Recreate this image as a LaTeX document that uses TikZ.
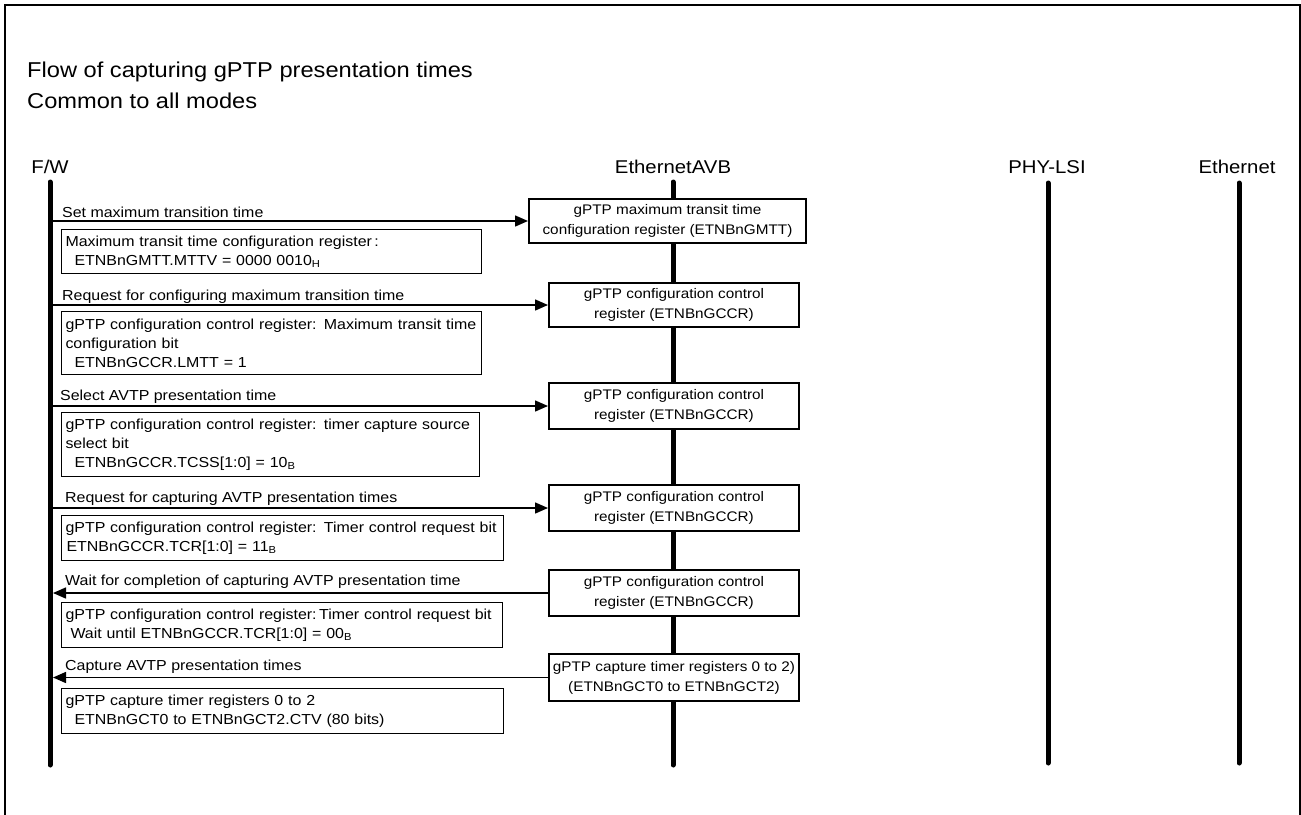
\documentclass[tikz,border=0pt]{standalone}
\usepackage{fontspec}
\setmainfont{Liberation Sans}[FakeStretch=1.1]
\usetikzlibrary{arrows.meta}
\begin{document}
\begin{tikzpicture}[x=1pt,y=-1pt,
  smallfont/.style={font=\fontsize{14.5}{19}\selectfont},
  titlefont/.style={font=\fontsize{21.5}{26}\selectfont},
  headfont/.style={font=\fontsize{18.5}{22}\selectfont},
  lifeline/.style={line width=5pt,line cap=round},
  regbox/.style={draw,line width=2pt,fill=white,align=center,inner sep=0pt,
     font=\fontsize{13.9}{20}\selectfont},
  notebox/.style={draw,line width=1pt,fill=white,anchor=north west,align=left,
     inner xsep=4pt,inner ysep=0pt,font=\fontsize{14.5}{19}\selectfont},
  msg/.style={line width=1.5pt,-{Triangle[length=13pt,width=11pt]}},
  lbl/.style={anchor=base west,inner sep=0pt,smallfont},
  head/.style={anchor=base,inner sep=0pt,headfont}]
\useasboundingbox (0,0) rectangle (1301,814);
\draw[line width=2pt] (5,816) -- (5,5) -- (1300,5) -- (1300,816);

% title
\node[anchor=base west,inner sep=0pt,titlefont] (t1) at (27,77) {Flow of capturing gPTP presentation times};
\node[anchor=base west,inner sep=0pt,titlefont] (t2) at (27,108) {Common to all modes};

% heads
\node[head] (hfw) at (50,173) {F/W};
\node[head] (havb) at (673,173) {EthernetAVB};
\node[head] (hphy) at (1047,173) {PHY-LSI};
\node[head] (heth) at (1237,173) {Ethernet};

% lifelines
\coordinate (fwT) at (50,182);   \coordinate (fwB) at (50,765);
\coordinate (avT) at (673,182);  \coordinate (avB) at (673,765);
\coordinate (phT) at (1048,183); \coordinate (phB) at (1048,763);
\coordinate (etT) at (1239,183); \coordinate (etB) at (1239,763);
\draw[lifeline] (fwT) -- (fwB);
\draw[lifeline] (avT) -- (avB);
\draw[lifeline] (phT) -- (phB);
\draw[lifeline] (etT) -- (etB);

% register boxes
\node[regbox,minimum width=277pt,minimum height=44pt] (b1) at (667.5,221) {gPTP maximum transit time\\configuration register (ETNBnGMTT)};
\node[regbox,minimum width=250pt,minimum height=44pt] (b2) at (674,305) {gPTP configuration control\\register (ETNBnGCCR)};
\node[regbox,minimum width=250pt,minimum height=46pt] (b3) at (674,406) {gPTP configuration control\\register (ETNBnGCCR)};
\node[regbox,minimum width=250pt,minimum height=46pt] (b4) at (674,508) {gPTP configuration control\\register (ETNBnGCCR)};
\node[regbox,minimum width=250pt,minimum height=46pt] (b5) at (674,593) {gPTP configuration control\\register (ETNBnGCCR)};
\node[regbox,minimum width=250pt,minimum height=47pt] (b6) at (674,677.5) {gPTP capture timer registers 0 to 2)\\(ETNBnGCT0 to ETNBnGCT2)};

% messages
\draw[msg] (fwT |- b1.west) -- (b1.west);
\draw[msg] (fwT |- b2.west) -- (b2.west);
\draw[msg] (fwT |- b3.west) -- (b3.west);
\draw[msg] (fwT |- b4.west) -- (b4.west);
\draw[msg,shorten >=3pt] (b5.west) -- (fwT |- b5.west);
\draw[msg,shorten >=3pt] (b6.west) -- (fwT |- b6.west);

% message labels
\node[lbl] (m1) at (62,217) {Set maximum transition time};
\node[lbl] (m2) at (62,300) {Request for configuring maximum transition time};
\node[lbl] (m3) at (60,400) {Select AVTP presentation time};
\node[lbl] (m4) at (65,502) {Request for capturing AVTP presentation times};
\node[lbl] (m5) at (65,585) {Wait for completion of capturing AVTP presentation time};
\node[lbl] (m6) at (65,670) {Capture AVTP presentation times};

% notes
\node[notebox,text width=412pt,minimum height=44pt] (n1) at (61,229)
  {\mbox{Maximum transit time configuration register\,:}\\
   \mbox{\hspace*{9pt}ETNBnGMTT.MTTV = 0000 0010\textsubscript{H}}};
\node[notebox,text width=412pt,minimum height=63pt] (n2) at (61,311)
  {\mbox{gPTP configuration control register: Maximum transit time}\\
   \mbox{configuration bit}\\
   \mbox{\hspace*{9pt}ETNBnGCCR.LMTT = 1}};
\node[notebox,text width=410pt,minimum height=64pt] (n3) at (61,412)
  {\mbox{gPTP configuration control register: timer capture source}\\
   \mbox{select bit}\\
   \mbox{\hspace*{9pt}ETNBnGCCR.TCSS[1:0] = 10\textsubscript{B}}};
\node[notebox,text width=434pt,minimum height=45pt] (n4) at (61,515)
  {\mbox{gPTP configuration control register: Timer control request bit}\\
   \mbox{\hspace*{1pt}ETNBnGCCR.TCR[1:0] = 11\textsubscript{B}}};
\node[notebox,text width=433pt,minimum height=45pt] (n5) at (61,602)
  {\mbox{gPTP configuration control register:\,Timer control request bit}\\
   \mbox{\hspace*{5pt}Wait until ETNBnGCCR.TCR[1:0] = 00\textsubscript{B}}};
\node[notebox,text width=434pt,minimum height=45pt] (n6) at (61,688)
  {\mbox{gPTP capture timer registers 0 to 2}\\
   \mbox{\hspace*{9pt}ETNBnGCT0 to ETNBnGCT2.CTV (80 bits)}};
\end{tikzpicture}
\end{document}
